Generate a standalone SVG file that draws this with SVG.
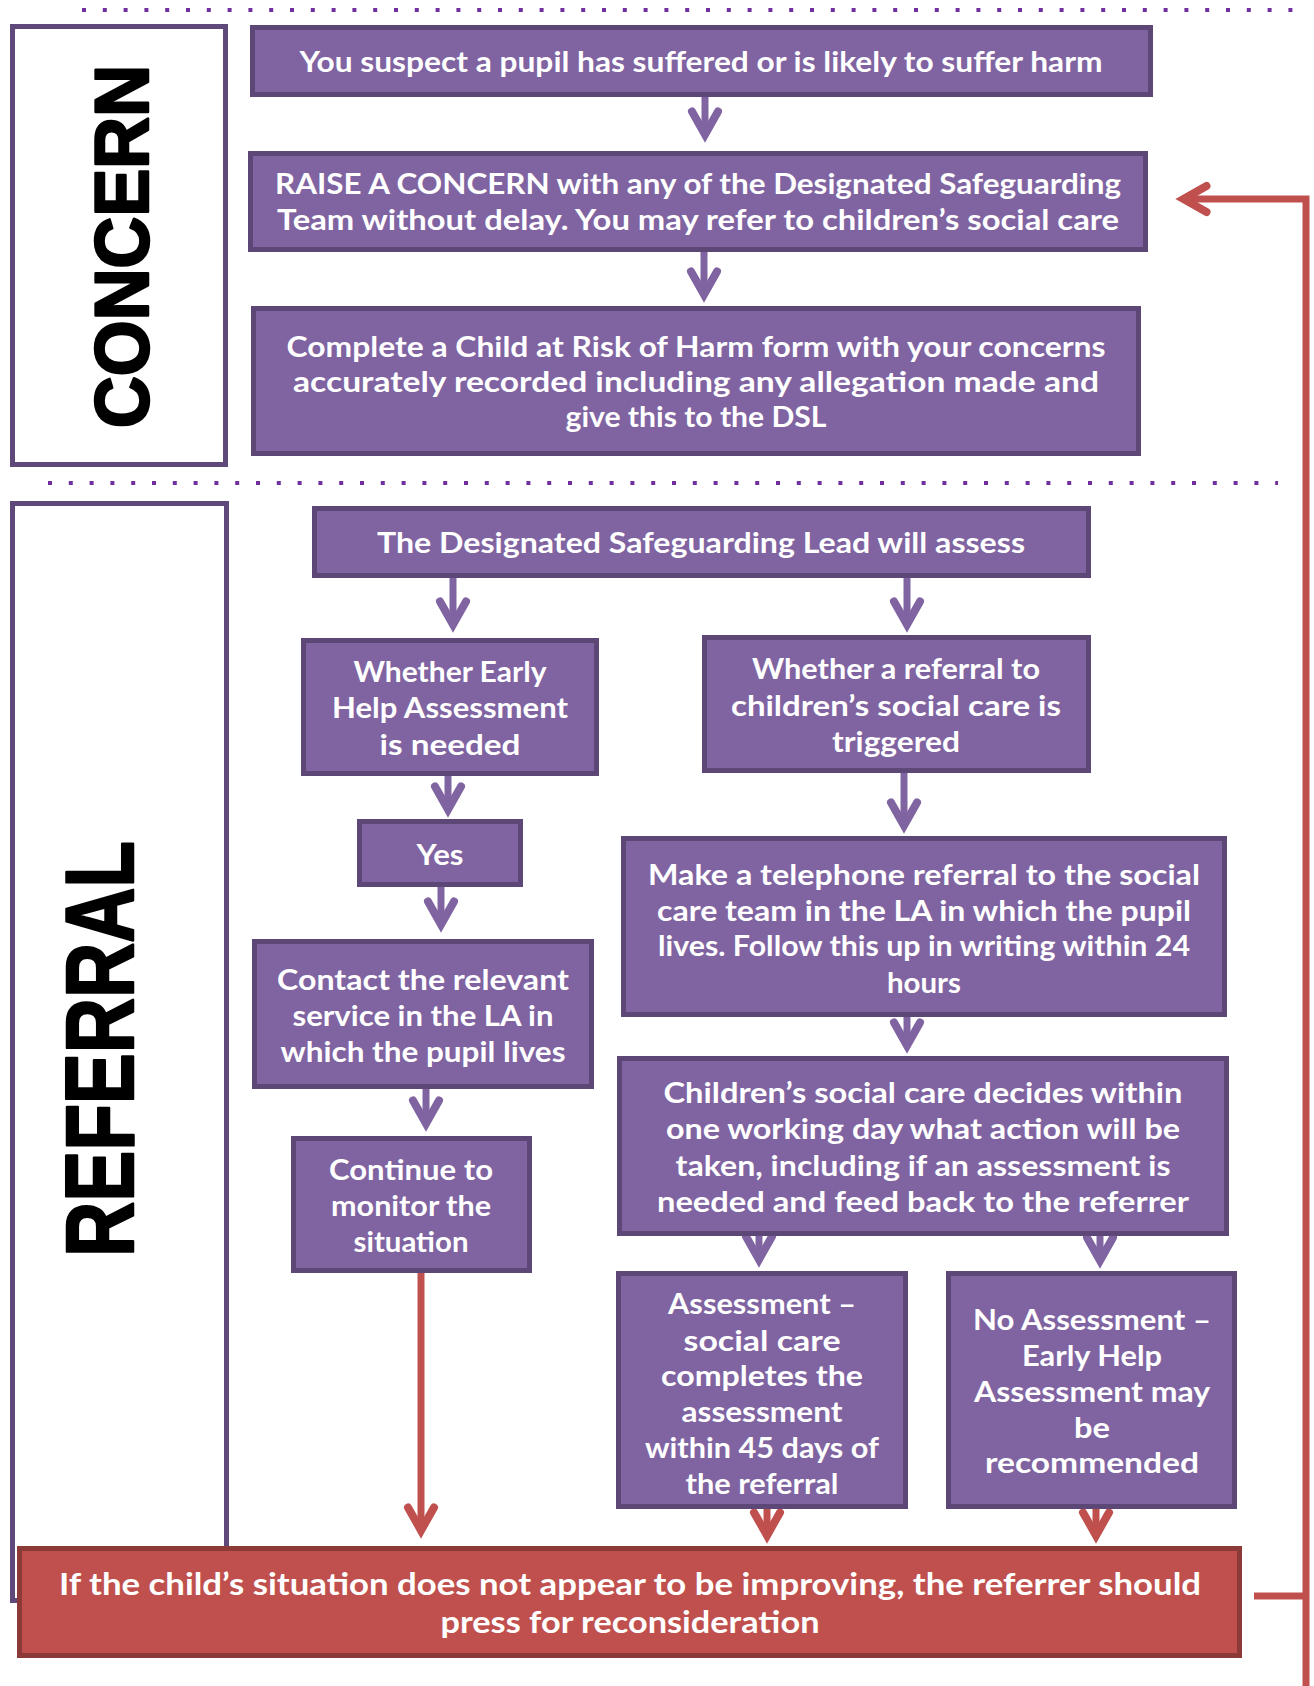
<svg xmlns="http://www.w3.org/2000/svg" width="1314" height="1686" viewBox="0 0 1314 1686">
<style>
.bg{fill:#ffffff}
.dots{fill:none;stroke:#7030A0;stroke-width:4;stroke-dasharray:4 16.8}
.sec{fill:#ffffff;stroke:#5F497A;stroke-width:5}
.box{fill:#8064A2;stroke:#5C4776;stroke-width:5}
.rbox{fill:#C0504D;stroke:#8C3A38;stroke-width:5}
.t{font-family:Lato,"Liberation Sans","DejaVu Sans",sans-serif;font-weight:700;font-size:29px;fill:#ffffff;text-anchor:middle}
.rt{font-size:31px}
.big{font-family:"Liberation Sans",Arial,sans-serif;font-weight:700;fill:#000000;stroke:#000000;stroke-width:2.5;stroke-linejoin:round;text-anchor:middle}
.pa{fill:none;stroke:#8064A2;stroke-width:7}
.ra{fill:none;stroke:#C0504D;stroke-width:7}
</style>
<defs>
<marker id="mp" markerUnits="userSpaceOnUse" viewBox="-40 -30 60 60" markerWidth="60" markerHeight="60" refX="0" refY="0" orient="auto" overflow="visible">
<path d="M-23 -13 L0 0 L-23 13" fill="none" stroke="#8064A2" stroke-width="8" stroke-linecap="round" stroke-linejoin="miter" stroke-miterlimit="10"/>
</marker>
<marker id="mr" markerUnits="userSpaceOnUse" viewBox="-40 -30 60 60" markerWidth="60" markerHeight="60" refX="0" refY="0" orient="auto" overflow="visible">
<path d="M-23 -13 L0 0 L-23 13" fill="none" stroke="#C0504D" stroke-width="8" stroke-linecap="round" stroke-linejoin="miter" stroke-miterlimit="10"/>
</marker>
</defs>
<rect class="bg" x="0" y="0" width="1314" height="1686"/>

<g id="dividers">
<line class="dots" x1="82" y1="10" x2="1298" y2="10"/>
<line class="dots" x1="48" y1="483" x2="1278" y2="483"/>
</g>

<g id="concern-section">
<rect class="sec" x="12.5" y="26.5" width="213" height="438"/>
<text class="big" font-size="76" textLength="363" lengthAdjust="spacingAndGlyphs" transform="translate(148,246.5) rotate(-90)">CONCERN</text>
</g>

<g id="referral-section">
<rect class="sec" x="12.5" y="503.5" width="214" height="1097"/>
<text class="big" font-size="97" textLength="416" lengthAdjust="spacingAndGlyphs" transform="translate(133,1049) rotate(-90)">REFERRAL</text>
</g>

<g id="connectors">
<line class="pa" x1="705" y1="97" x2="705" y2="134.5" marker-end="url(#mp)"/>
<line class="pa" x1="704" y1="252" x2="704" y2="294.5" marker-end="url(#mp)"/>
<line class="pa" x1="453" y1="578" x2="453" y2="624.5" marker-end="url(#mp)"/>
<line class="pa" x1="907" y1="578" x2="907" y2="624.5" marker-end="url(#mp)"/>
<line class="pa" x1="448" y1="776" x2="448" y2="809.5" marker-end="url(#mp)"/>
<line class="pa" x1="904" y1="773" x2="904" y2="825.5" marker-end="url(#mp)"/>
<line class="pa" x1="441" y1="887" x2="441" y2="924.5" marker-end="url(#mp)"/>
<line class="pa" x1="426" y1="1089" x2="426" y2="1123.5" marker-end="url(#mp)"/>
<line class="pa" x1="907" y1="1017" x2="907" y2="1045.5" marker-end="url(#mp)"/>
<line class="pa" x1="759" y1="1236" x2="759" y2="1259.5" marker-end="url(#mp)"/>
<line class="pa" x1="1100" y1="1236" x2="1100" y2="1260.5" marker-end="url(#mp)"/>
<line class="ra" x1="421" y1="1273" x2="421" y2="1530.5" marker-end="url(#mr)"/>
<line class="ra" x1="767" y1="1507" x2="767" y2="1535.5" marker-end="url(#mr)"/>
<line class="ra" x1="1096" y1="1507" x2="1096" y2="1535.5" marker-end="url(#mr)"/>
<line class="ra" x1="1254" y1="1596" x2="1306" y2="1596"/>
<path class="ra" d="M1306 1686 V199 H1183.5" stroke-linejoin="miter" marker-end="url(#mr)"/>
</g>

<g id="n-suspect">
<rect class="box" x="252.5" y="27.5" width="898" height="67"/>
<text class="t" x="701" y="72" textLength="803" lengthAdjust="spacingAndGlyphs">You suspect a pupil has suffered or is likely to suffer harm</text>
</g>

<g id="n-raise">
<rect class="box" x="250.5" y="153.5" width="895" height="96"/>
<text class="t" x="698" y="194" textLength="846" lengthAdjust="spacingAndGlyphs">RAISE A CONCERN with any of the Designated Safeguarding</text>
<text class="t" x="698" y="230" textLength="842" lengthAdjust="spacingAndGlyphs">Team without delay. You may refer to children’s social care</text>
</g>

<g id="n-form">
<rect class="box" x="253.5" y="308.5" width="885" height="145"/>
<text class="t" x="696" y="357" textLength="819" lengthAdjust="spacingAndGlyphs">Complete a Child at Risk of Harm form with your concerns</text>
<text class="t" x="696" y="392" textLength="806" lengthAdjust="spacingAndGlyphs">accurately recorded including any allegation made and</text>
<text class="t" x="696" y="427" textLength="261" lengthAdjust="spacingAndGlyphs">give this to the DSL</text>
</g>

<g id="n-dsl">
<rect class="box" x="314.5" y="508.5" width="774" height="67"/>
<text class="t" x="701" y="553" textLength="648" lengthAdjust="spacingAndGlyphs">The Designated Safeguarding Lead will assess</text>
</g>

<g id="n-earlyhelp">
<rect class="box" x="303.5" y="640.5" width="293" height="133"/>
<text class="t" x="450" y="682" textLength="193" lengthAdjust="spacingAndGlyphs">Whether Early</text>
<text class="t" x="450" y="718" textLength="236" lengthAdjust="spacingAndGlyphs">Help Assessment</text>
<text class="t" x="450" y="755" textLength="141" lengthAdjust="spacingAndGlyphs">is needed</text>
</g>

<g id="n-referral">
<rect class="box" x="704.5" y="637.5" width="384" height="133"/>
<text class="t" x="896" y="679" textLength="288" lengthAdjust="spacingAndGlyphs">Whether a referral to</text>
<text class="t" x="896" y="716" textLength="330" lengthAdjust="spacingAndGlyphs">children’s social care is</text>
<text class="t" x="896" y="752" textLength="128" lengthAdjust="spacingAndGlyphs">triggered</text>
</g>

<g id="n-yes">
<rect class="box" x="359.5" y="821.5" width="161" height="63"/>
<text class="t" x="440" y="865" textLength="47" lengthAdjust="spacingAndGlyphs">Yes</text>
</g>

<g id="n-telephone">
<rect class="box" x="623.5" y="838.5" width="601" height="176"/>
<text class="t" x="924" y="885" textLength="552" lengthAdjust="spacingAndGlyphs">Make a telephone referral to the social</text>
<text class="t" x="924" y="921" textLength="534" lengthAdjust="spacingAndGlyphs">care team in the LA in which the pupil</text>
<text class="t" x="924" y="956" textLength="532" lengthAdjust="spacingAndGlyphs">lives. Follow this up in writing within 24</text>
<text class="t" x="924" y="993" textLength="74" lengthAdjust="spacingAndGlyphs">hours</text>
</g>

<g id="n-contact">
<rect class="box" x="254.5" y="941.5" width="337" height="145"/>
<text class="t" x="423" y="990" textLength="292" lengthAdjust="spacingAndGlyphs">Contact the relevant</text>
<text class="t" x="423" y="1026" textLength="261" lengthAdjust="spacingAndGlyphs">service in the LA in</text>
<text class="t" x="423" y="1062" textLength="285" lengthAdjust="spacingAndGlyphs">which the pupil lives</text>
</g>

<g id="n-continue">
<rect class="box" x="293.5" y="1138.5" width="236" height="132"/>
<text class="t" x="411" y="1180" textLength="164" lengthAdjust="spacingAndGlyphs">Continue to</text>
<text class="t" x="411" y="1216" textLength="160" lengthAdjust="spacingAndGlyphs">monitor the</text>
<text class="t" x="411" y="1252" textLength="115" lengthAdjust="spacingAndGlyphs">situation</text>
</g>

<g id="n-decides">
<rect class="box" x="619.5" y="1058.5" width="607" height="175"/>
<text class="t" x="923" y="1103" textLength="519" lengthAdjust="spacingAndGlyphs">Children’s social care decides within</text>
<text class="t" x="923" y="1139" textLength="514" lengthAdjust="spacingAndGlyphs">one working day what action will be</text>
<text class="t" x="923" y="1176" textLength="495" lengthAdjust="spacingAndGlyphs">taken, including if an assessment is</text>
<text class="t" x="923" y="1212" textLength="532" lengthAdjust="spacingAndGlyphs">needed and feed back to the referrer</text>
</g>

<g id="n-assessment">
<rect class="box" x="618.5" y="1273.5" width="287" height="233"/>
<text class="t" x="762" y="1314" textLength="188" lengthAdjust="spacingAndGlyphs">Assessment –</text>
<text class="t" x="762" y="1351" textLength="157" lengthAdjust="spacingAndGlyphs">social care</text>
<text class="t" x="762" y="1386" textLength="202" lengthAdjust="spacingAndGlyphs">completes the</text>
<text class="t" x="762" y="1422" textLength="161" lengthAdjust="spacingAndGlyphs">assessment</text>
<text class="t" x="762" y="1458" textLength="234" lengthAdjust="spacingAndGlyphs">within 45 days of</text>
<text class="t" x="762" y="1494" textLength="153" lengthAdjust="spacingAndGlyphs">the referral</text>
</g>

<g id="n-noassessment">
<rect class="box" x="948.5" y="1273.5" width="286" height="233"/>
<text class="t" x="1092" y="1330" textLength="238" lengthAdjust="spacingAndGlyphs">No Assessment –</text>
<text class="t" x="1092" y="1366" textLength="140" lengthAdjust="spacingAndGlyphs">Early Help</text>
<text class="t" x="1092" y="1402" textLength="236" lengthAdjust="spacingAndGlyphs">Assessment may</text>
<text class="t" x="1092" y="1438" textLength="36" lengthAdjust="spacingAndGlyphs">be</text>
<text class="t" x="1092" y="1473" textLength="214" lengthAdjust="spacingAndGlyphs">recommended</text>
</g>

<g id="n-reconsider">
<rect class="rbox" x="19.5" y="1548.5" width="1220" height="107"/>
<text class="t rt" x="630" y="1595" textLength="1142" lengthAdjust="spacingAndGlyphs">If the child’s situation does not appear to be improving, the referrer should</text>
<text class="t rt" x="630" y="1633" textLength="379" lengthAdjust="spacingAndGlyphs">press for reconsideration</text>
</g>
</svg>
